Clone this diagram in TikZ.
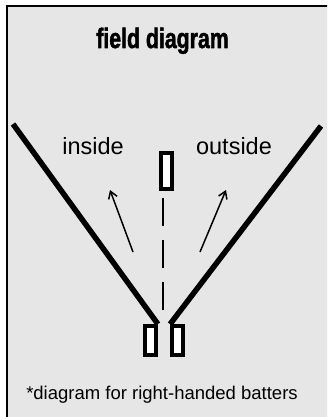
\documentclass[tikz,border=0pt]{standalone}
\usepackage{fontspec}
\setmainfont{Liberation Sans}
\newfontfamily\titlefont[FakeBold=2]{Liberation Sans Bold}
\usetikzlibrary{arrows.meta,positioning}
\definecolor{panelgray}{HTML}{E6E6E6}

\begin{document}
\begin{tikzpicture}[
        x=1pt, y=-1pt,
        panel/.style={draw=black, line width=2pt, fill=panelgray},
        basebox/.style={rectangle, draw=black, fill=white, line width=3.8pt, minimum width=11pt, inner sep=0pt},
        foulline/.style={line width=5.5pt},
        midline/.style={line width=2pt, dash pattern=on 28pt off 14pt},
        hitarr/.style={-{Straight Barb[length=7pt, width=9pt, line width=1.5pt]}, line width=1.5pt},
        lbl/.style={font=\fontsize{23.5}{26}\selectfont, anchor=base},
    ]
        \useasboundingbox (0,0) rectangle (327,417);
        \clip (0,0) rectangle (327,417);

        % Panel
        \draw[panel] (6.5,6.5) rectangle (345,440);

        % Title
        \node[anchor=base, font=\titlefont\bfseries\fontsize{28}{30}\selectfont] (title) at (162.5,48) {\scalebox{0.76}[1]{field diagram}};

        % Mound and batter boxes
        \node[basebox, minimum height=36pt] (mound) at (166.5,171) {};
        \node[basebox, minimum height=29pt] (lbox) at (150.5,340.5) {};
        \node[basebox, minimum height=29pt] (rbox) at (177.5,340.5) {};

        % Foul lines
        \coordinate (lfar) at (13,124);
        \coordinate (rfar) at (321,126);
        \draw[foulline] (lfar) -- (lbox.north east);
        \draw[foulline] (rfar) -- (rbox.north west);

        % Centre line
        \coordinate (ctop) at (162.5,198);
        \coordinate (cbot) at (162.5,323);
        \draw[midline] (ctop) -- (cbot);

        % Arrows
        \coordinate (lfrom) at (133,252);
        \coordinate (lto) at (110,190);
        \coordinate (rfrom) at (200,252);
        \coordinate (rto) at (226,190);
        \draw[hitarr] (lfrom) -- (lto);
        \draw[hitarr] (rfrom) -- (rto);

        % Labels
        \node[lbl] (inside) at (93,154) {inside};
        \node[lbl] (outside) at (234,154) {outside};
        \node[anchor=base, font=\fontsize{18.5}{20}\selectfont] (note) at (162,399) {*diagram for right-handed batters};
    \end{tikzpicture}
\end{document}
